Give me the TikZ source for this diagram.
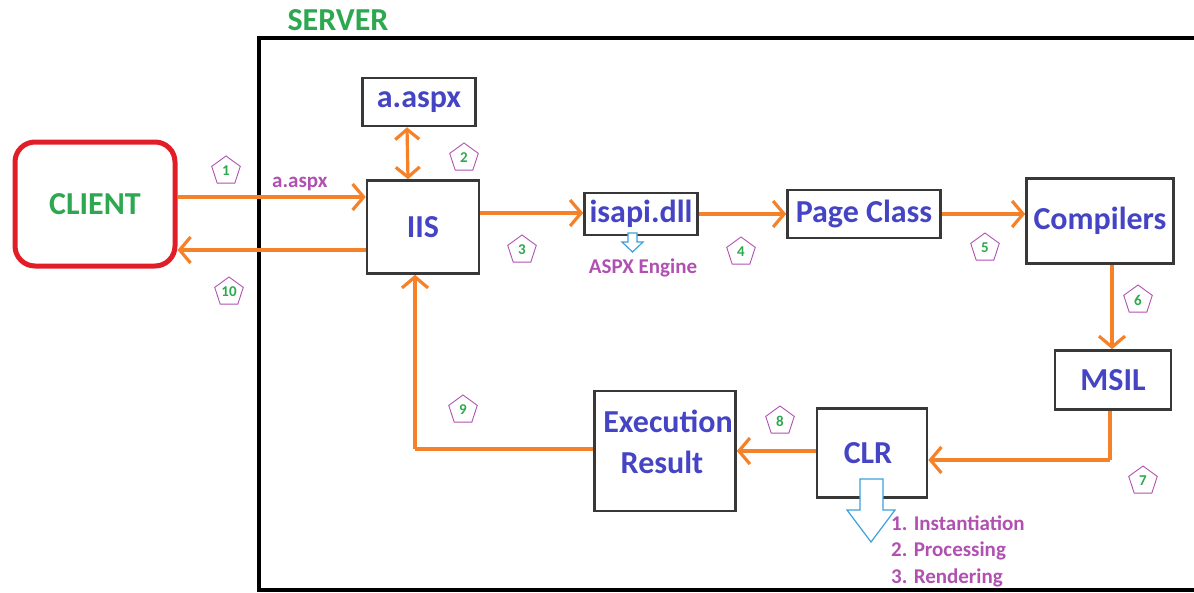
\documentclass[tikz,border=0pt]{standalone}
\usepackage{fontspec}
\setmainfont{Carlito}
\usetikzlibrary{arrows.meta,shapes.geometric}
\definecolor{tblue}{RGB}{68,68,196}
\definecolor{tgreen}{RGB}{46,168,80}
\definecolor{torange}{RGB}{245,130,40}
\definecolor{tpurple}{RGB}{176,80,176}
\definecolor{tred}{RGB}{225,30,40}
\definecolor{tcyan}{RGB}{60,160,220}
\tikzset{
  bigfont/.style={font=\bfseries\fontsize{32}{34}\selectfont},
  box/.style={draw=black!78, line width=2.6pt, fill=white, inner sep=0pt, bigfont, text=tblue, align=center},
  boxtext/.style={text=tblue, bigfont, inner sep=0pt},
  conn/.style={draw=torange, line width=3.2pt, -{Straight Barb[length=11pt,width=26pt]}},
  connd/.style={draw=torange, line width=3.2pt, {Straight Barb[length=10pt,width=24pt]}-{Straight Barb[length=10pt,width=24pt]}},
  plain/.style={draw=torange, line width=3.2pt},
  penta/.style={regular polygon, regular polygon sides=5, draw=tpurple, line width=0.9pt, minimum size=30pt, inner sep=0pt, text=tgreen, font=\bfseries\fontsize{15}{15}\selectfont},
  small/.style={text=tpurple, font=\bfseries\fontsize{21}{23}\selectfont, inner sep=0pt},
  hollow/.style={draw=tcyan, line width=1.2pt, fill=white}
}
\begin{document}
\begin{tikzpicture}[x=1pt,y=-1pt]
\useasboundingbox (0,0) rectangle (1194,592);
% server frame
\draw[line width=3.5pt, black] (1200,38) -- (259,38) -- (259,590) -- (1200,590);
\node[text=tgreen, bigfont] (server) at (338,20) {SERVER};
% client
\node[draw=tred, line width=5pt, rounded corners=20pt, minimum width=160pt, minimum height=124pt, text=tgreen, bigfont] (client) at (95,204) {CLIENT};
% boxes
\node[box, minimum width=112pt, minimum height=93pt] (iis) at (423,227) {IIS};
\node[box, minimum width=113pt, minimum height=48pt] (aspx) at (419,102) {a.aspx};
\node[box, minimum width=113pt, minimum height=42pt] (isapi) at (641,214) {isapi.dll};
\node[box, minimum width=153pt, minimum height=48pt] (page) at (864,214) {Page Class};
\node[box, minimum width=147pt, minimum height=85pt] (comp) at (1100,221) {Compilers};
\node[box, minimum width=116pt, minimum height=59pt] (msil) at (1113,380) {MSIL};
\node[box, minimum width=110pt, minimum height=89pt] (clr) at (872,453) {};
\node[boxtext] (clrt) at (868,453) {CLR};
\node[box, minimum width=141pt, minimum height=120pt] (exec) at (665,451) {};
\node[boxtext] (exec1) at (668,421) {Execution};
\node[boxtext] (exec2) at (662,462) {Result};
% coordinates
\coordinate (c1a) at ([yshift=7pt]client.east);
\coordinate (c10a) at ([yshift=-23pt]iis.west);
\coordinate (i3) at ([yshift=1pt]iis.east |- isapi.west);
% connectors
\draw[conn] (c1a) -- node[small, above=5pt, pos=0.65] (lbl) {a.aspx} (iis.west |- c1a);
\draw[conn] (c10a) -- (client.east |- c10a);
\draw[connd] ([xshift=-12pt]aspx.south) -- ([xshift=-15pt]iis.north);
\draw[conn] (i3) -- (isapi.west |- i3);
\draw[conn] (isapi.east) -- (page.west |- isapi.east);
\draw[conn] (page.east) -- (comp.west |- page.east);
\draw[conn] ([xshift=12pt]comp.south) -- ([xshift=12pt]comp.south |- msil.north);
\coordinate (m7) at ([xshift=-3pt]msil.south |- 0,460);
\draw[plain] ([xshift=-3pt]msil.south) -- (m7);
\draw[conn] (m7) -- (clr.east |- m7);
\draw[conn] (clr.west |- 0,451) -- (exec.east |- 0,451);
\coordinate (m9) at (415,449);
\draw[plain] (exec.west |- m9) -- (m9);
\draw[conn] (m9) -- (iis.south -| m9);
% pentagons
\node[penta] (p1) at (226,171) {1};
\node[penta] (p2) at (464,158) {2};
\node[penta] (p3) at (522,250) {3};
\node[penta] (p4) at (741,252) {4};
\node[penta] (p5) at (985,248) {5};
\node[penta] (p6) at (1138,300) {6};
\node[penta] (p7) at (1143,481) {7};
\node[penta] (p8) at (780,421) {8};
\node[penta] (p9) at (463,410) {9};
\node[penta] (p10) at (229,292) {10};
% ASPX engine
\draw[hollow] (628,233) -- (637,233) -- (637,242) -- (643,242) -- (632.5,252) -- (622,242) -- (628,242) -- cycle;
\node[small] (engine) at (643,268) {ASPX Engine};
% CLR list
\draw[hollow] (860,479) -- (883,479) -- (883,510) -- (895,510) -- (871,542) -- (847,510) -- (860,510) -- cycle;
\node[small, anchor=west] (l1) at (891,523) {1. Instantiation};
\node[small, anchor=west] (l2) at (891,551) {2. Processing};
\node[small, anchor=west] (l3) at (891,578) {3. Rendering};
\end{tikzpicture}
\end{document}
